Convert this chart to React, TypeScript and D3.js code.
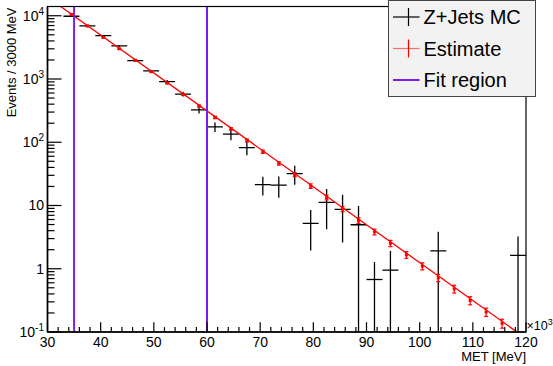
import React from 'react';
import * as d3 from 'd3';

// Bin centres (units of 10^3 MeV), bin width 3
const binCenters = [34.5, 37.5, 40.5, 43.5, 46.5, 49.5, 52.5, 55.5, 58.5, 61.5, 64.5, 67.5, 70.5, 73.5, 76.5, 79.5, 82.5, 85.5, 88.5, 91.5, 94.5, 97.5, 100.5, 103.5, 106.5, 109.5, 112.5, 115.5, 118.5];
const mcValues = [9820, 6920, 4855, 3335, 1950, 1340, 906, 578, 326, 175, 134, 82.4, 21.4, 21, 31.9, 5.2, 11.2, 8.7, 4.96, 0.676, 0.95, 0, 0, 1.92, 0, 0, 0, 0, 1.63];
const mcErrors = [150, 120, 100, 95, 70, 60, 55, 50, 40, 30, 26, 20, 7, 7.7, 10.7, 3.25, 7, 6.1, 4.9, 0.6, 0.95, 0, 0, 1.93, 0, 0, 0, 0, 1.6];

const estCenters = [34.5, 37.5, 40.5, 43.5, 46.5, 49.5, 52.5, 55.5, 58.5, 61.5, 64.5, 67.5, 70.5, 73.5, 76.5, 79.5, 82.5, 85.5, 88.5, 91.5, 94.5, 97.5, 100.5, 103.5, 106.5, 109.5, 112.5, 115.5];
const estValues = [10470, 6905, 4550, 3000, 1977, 1305, 861, 568, 374, 247, 163, 107, 70.7, 46.6, 30.7, 20.3, 13.4, 8.8, 5.8, 3.83, 2.52, 1.66, 1.10, 0.72, 0.48, 0.315, 0.207, 0.137];
const estErrors = [314, 173, 91, 60, 40, 26, 17, 14, 11, 9.9, 7.3, 5.4, 4.2, 3.0, 2.15, 1.62, 1.14, 0.79, 0.58, 0.40, 0.28, 0.20, 0.14, 0.094, 0.067, 0.046, 0.031, 0.022];

// Fitted exponential drawn across the full axis range
const fitLineX = [30, 120];
const fitLineY = [19700, 0.079];

const fitRegion = [35, 60];

const xTicks = [30, 40, 50, 60, 70, 80, 90, 100, 110, 120];
const yTicks = [0.1, 1, 10, 100, 1000, 10000];
const yTickBase = ['10', '1', '10', '10', '10', '10'];
const yTickExp = ['-1', '', '', '2', '3', '4'];

const legendLabels = ['Z+Jets MC', 'Estimate', 'Fit region'];

const FONT = '"Liberation Sans", Arial, Helvetica, sans-serif';
const PURPLE = '#7a1fe8';

export default function App() {
  const W = 553, H = 366;
  const x0 = 47.5, x1 = 526, y0 = 332, y1 = 6.5;
  const x = d3.scaleLinear().domain([30, 120]).range([x0, x1]);
  const y = d3.scaleLog().domain([0.1, 14000]).range([y0, y1]);
  const yc = (v: number) => y(Math.max(v, 0.001));
  const half = 1.5;

  const minorX = d3.range(30, 120.001, 2).filter((v) => Math.abs(v % 10) > 0.01);
  const minorY: number[] = [];
  [0.1, 1, 10, 100, 1000, 10000].forEach((d) => {
    for (let k = 2; k <= 9; k++) {
      const v = d * k;
      if (v < 14000) minorY.push(v);
    }
  });

  const fitPath = d3.line<number>().x((d, i) => x(fitLineX[i])).y((d) => y(d))(fitLineY) || '';

  return (
    <svg width={W} height={H} style={{ position: 'absolute', left: 0, top: 0, background: '#fff' }} fontFamily={FONT}>
      <defs>
        <clipPath id="plot">
          <rect x={x0} y={y1} width={x1 - x0} height={y0 - y1} />
        </clipPath>
      </defs>
      <rect x={0} y={0} width={W} height={H} fill="#fff" />

      <g clipPath="url(#plot)">
        {binCenters.map((c, i) => {
          const v = mcValues[i];
          if (v <= 0) return null;
          const e = mcErrors[i];
          return (
            <g key={'mc' + i} stroke="#000" strokeWidth={1.3}>
              <line x1={x(c - half)} x2={x(c + half)} y1={y(v)} y2={y(v)} />
              <line x1={x(c)} x2={x(c)} y1={yc(v + e)} y2={yc(v - e)} />
            </g>
          );
        })}
        <path d={fitPath} fill="none" stroke="#ff0000" strokeWidth={1.3} />
        {estCenters.map((c, i) => {
          const v = estValues[i];
          const e = estErrors[i];
          const cx = x(c);
          return (
            <g key={'est' + i} stroke="#ff0000" strokeWidth={1.2}>
              <line x1={cx} x2={cx} y1={y(v + e)} y2={y(v - e)} />
              <line x1={cx - 2} x2={cx + 2} y1={y(v + e)} y2={y(v + e)} />
              <line x1={cx - 2} x2={cx + 2} y1={y(v - e)} y2={y(v - e)} />
              <rect x={cx - 1.5} y={y(v) - 1.5} width={3} height={3} fill="#ff0000" stroke="none" />
            </g>
          );
        })}
      </g>

      {fitRegion.map((r, i) => (
        <line key={'fr' + i} x1={x(r)} x2={x(r)} y1={y0} y2={y1} stroke={PURPLE} strokeWidth={2} />
      ))}

      <rect x={x0} y={y1} width={x1 - x0} height={y0 - y1} fill="none" stroke="#000" strokeWidth={1.2} />
      <line x1={x0} x2={x1} y1={y0} y2={y0} stroke="#000" strokeWidth={1.6} />
      <line x1={x0} x2={x0} y1={y0} y2={y1} stroke="#000" strokeWidth={1.6} />

      {xTicks.map((t) => (
        <line key={'xt' + t} x1={x(t)} x2={x(t)} y1={y0} y2={y0 - 9.8} stroke="#000" strokeWidth={1.2} />
      ))}
      {minorX.map((t) => (
        <line key={'xm' + t} x1={x(t)} x2={x(t)} y1={y0} y2={y0 - 4.9} stroke="#000" strokeWidth={1.2} />
      ))}
      {xTicks.map((t) => (
        <text key={'xl' + t} x={x(t)} y={347} fontSize={14} textAnchor="middle" fill="#000">{t}</text>
      ))}
      <text x={526.5} y={330} fontSize={12.5} fill="#000">
        ×10<tspan fontSize={9} dy={-5.5}>3</tspan>
      </text>
      <text x={x1} y={361} fontSize={13} textAnchor="end" fill="#000">MET [MeV]</text>

      {yTicks.map((t) => (
        <line key={'yt' + t} x1={x0} x2={x0 + 14} y1={y(t)} y2={y(t)} stroke="#000" strokeWidth={1.2} />
      ))}
      {minorY.map((t) => (
        <line key={'ym' + t} x1={x0} x2={x0 + 7} y1={y(t)} y2={y(t)} stroke="#000" strokeWidth={1.2} />
      ))}
      {yTicks.map((t, i) => (
        <text key={'yl' + t} x={44} y={y(t) + 5} fontSize={14} textAnchor="end" fill="#000">
          {yTickBase[i]}
          {yTickExp[i] ? <tspan fontSize={10} dy={-6}>{yTickExp[i]}</tspan> : null}
        </text>
      ))}
      <text transform={`translate(15.5,${y1 + 1}) rotate(-90)`} fontSize={13} textAnchor="end" fill="#000">Events / 3000 MeV</text>

      <rect x={388.5} y={0.5} width={147} height={96} fill="#f2f2f2" stroke="#444" strokeWidth={1} />
      {legendLabels.map((l, i) => {
        const cy = 17 + i * 31.5;
        return (
          <g key={'lg' + i}>
            {i === 0 && (
              <g stroke="#000" strokeWidth={1.2}>
                <line x1={393} x2={419.5} y1={cy} y2={cy} />
                <line x1={408.5} x2={408.5} y1={cy - 9} y2={cy + 9} />
              </g>
            )}
            {i === 1 && (
              <g stroke="#ff0000" strokeWidth={1.2}>
                <line x1={393} x2={419.5} y1={cy} y2={cy} stroke="#ff6a6a" />
                <line x1={408.5} x2={408.5} y1={cy - 9} y2={cy + 9} />
              </g>
            )}
            {i === 2 && (
              <line x1={393} x2={419.5} y1={cy} y2={cy} stroke={PURPLE} strokeWidth={2} />
            )}
            <text x={423.5} y={cy + 7} fontSize={20} fill="#000">{l}</text>
          </g>
        );
      })}
    </svg>
  );
}
